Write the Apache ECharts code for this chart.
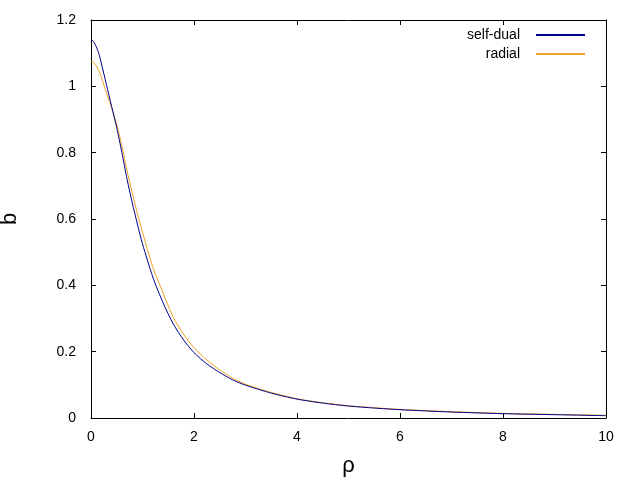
<!DOCTYPE html>
<html>
<head>
<meta charset="utf-8">
<script src="https://cdn.jsdelivr.net/npm/echarts@6/dist/echarts.min.js"></script>
<style>html,body{margin:0;padding:0;background:#fff}#c{width:640px;height:480px}</style>
</head>
<body>
<div id="c"></div>
<script>
var rho = [0, 0.05, 0.1, 0.15, 0.2, 0.3, 0.4, 0.5, 0.6, 0.7, 0.8, 0.9, 1.0, 1.2, 1.4, 1.6, 1.8, 2.0, 2.25, 2.5, 2.75, 3, 3.5, 4, 4.5, 5, 5.5, 6, 7, 8, 9, 10];
var selfDual = [1.14, 1.135, 1.12, 1.1, 1.07, 1.005, 0.94, 0.875, 0.80, 0.72, 0.65, 0.585, 0.525, 0.425, 0.347, 0.283, 0.235, 0.197, 0.163, 0.137, 0.115, 0.099, 0.075, 0.057, 0.045, 0.036, 0.030, 0.025, 0.018, 0.013, 0.010, 0.007];
var radial = [1.075, 1.072, 1.062, 1.048, 1.028, 0.98, 0.935, 0.885, 0.82, 0.745, 0.68, 0.617, 0.56, 0.455, 0.377, 0.303, 0.252, 0.212, 0.175, 0.145, 0.12, 0.102, 0.077, 0.058, 0.046, 0.037, 0.031, 0.026, 0.019, 0.014, 0.011, 0.008];
var seriesNames = ['self-dual', 'radial'];

function pairs(ys) { return rho.map(function (x, i) { return [x, ys[i]]; }); }

var font = 'Liberation Sans';
var chart = echarts.init(document.getElementById('c'));
var axisCommon = {
  axisLine: { show: true, onZero: false, lineStyle: { color: '#000', width: 1 } },
  axisTick: { show: true, inside: true, length: 5, lineStyle: { color: '#000' } },
  splitLine: { show: false }
};
chart.setOption({
  animation: false,
  backgroundColor: '#fff',
  grid: { left: 91, right: 34, top: 20, bottom: 62, containLabel: false, outerBoundsMode: 'none' },
  legend: {
    orient: 'vertical',
    right: 50, top: 23,
    align: 'right',
    itemWidth: 49, itemHeight: 2, itemGap: 5,
    icon: 'rect',
    textStyle: { fontFamily: font, fontSize: 14, color: '#000', width: 72, align: 'right', padding: [0, 11, 0, 0] },
    data: seriesNames
  },
  xAxis: [
    Object.assign({ type: 'value', min: 0, max: 10, interval: 2, position: 'bottom',
      name: 'ρ', nameLocation: 'middle', nameGap: 37,
      nameTextStyle: { fontFamily: font, fontSize: 22, color: '#000' },
      axisLabel: { fontFamily: font, fontSize: 14, color: '#000', margin: 12 } }, axisCommon),
    Object.assign({ type: 'value', min: 0, max: 10, interval: 2, position: 'top',
      axisLabel: { show: false } }, axisCommon)
  ],
  yAxis: [
    Object.assign({ type: 'value', min: 0, max: 1.2, interval: 0.2, position: 'left',
      name: 'b', nameLocation: 'middle', nameGap: 70, nameRotate: 90,
      nameTextStyle: { fontFamily: font, fontSize: 22, color: '#000' },
      axisLabel: { fontFamily: font, fontSize: 14, color: '#000', margin: 15,
        formatter: function (v) { return String(Math.round(v * 10) / 10); } } }, axisCommon),
    Object.assign({ type: 'value', min: 0, max: 1.2, interval: 0.2, position: 'right',
      axisLabel: { show: false } }, axisCommon)
  ],
  series: [
    { name: seriesNames[0], type: 'line', data: pairs(selfDual), showSymbol: false, smooth: 0.25,
      xAxisIndex: 0, yAxisIndex: 0, color: '#00008b', lineStyle: { width: 1, color: '#00008b' }, z: 3 },
    { name: seriesNames[1], type: 'line', data: pairs(radial), showSymbol: false, smooth: 0.25,
      xAxisIndex: 0, yAxisIndex: 0, color: '#f0a020', lineStyle: { width: 1, color: '#f0a020' }, z: 2 }
  ]
});
</script>
</body>
</html>
